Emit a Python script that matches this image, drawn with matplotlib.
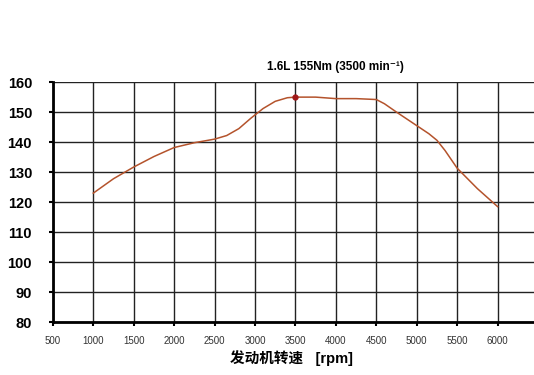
import matplotlib
matplotlib.use("Agg")
import matplotlib.pyplot as plt

plt.rcParams['font.family'] = ['Liberation Sans', 'DejaVu Sans', 'Noto Sans CJK SC']

# torque curve
rpm    = [1000, 1250, 1500, 1750, 2000, 2250, 2500, 2650, 2800, 2950, 3100,
          3250, 3400, 3500, 3750, 4000, 4250, 4500, 4600, 4750, 5000, 5150,
          5250, 5350, 5500, 5750, 6000]
torque = [123, 127.8, 131.7, 135.2, 138.2, 139.8, 141, 142.2, 144.5, 148,
          151.2, 153.6, 154.8, 155, 155, 154.5, 154.5, 154.2, 152.8, 150,
          145.5, 142.8, 140.6, 137.2, 131.3, 124.5, 118.5]
peak_rpm, peak_nm = 3500, 155
xticks = [500, 1000, 1500, 2000, 2500, 3000, 3500, 4000, 4500, 5000, 5500, 6000]
yticks = [80, 90, 100, 110, 120, 130, 140, 150, 160]
title  = "1.6L 155Nm (3500 min⁻¹)"
xlabel = "发动机转速   [rpm]"

fig = plt.figure(figsize=(5.34, 3.75), dpi=100)
ax = fig.add_axes([0.099, 0.141, 0.901, 0.64])

ax.plot(rpm, torque, color="#b4532c", lw=1.1, zorder=3)
ax.plot([peak_rpm], [peak_nm], "o", color="#a01818", ms=3.5, zorder=4)

ax.set_xlim(500, 6450)
ax.set_ylim(80, 160)
ax.set_xticks(xticks)
ax.set_yticks(yticks)
ax.grid(True, color="#222222", lw=1.0)
ax.set_axisbelow(True)

for s in ["top", "right"]:
    ax.spines[s].set_visible(False)
for s in ["left", "bottom"]:
    ax.spines[s].set_linewidth(2.0)
    ax.spines[s].set_color("black")

ax.tick_params(axis="y", labelsize=10.5, length=3, width=1.5, pad=12)
for lab in ax.get_yticklabels():
    lab.set_fontweight("bold")
ax.tick_params(axis="x", labelsize=7, length=3, width=1.5, pad=7,
               labelcolor="#333333")

ax.text(peak_rpm + 500, 163, title, ha="center", va="bottom",
        fontsize=8.5, fontweight="bold", clip_on=False)
fig.text(0.545, 0.025, xlabel, ha="center", va="bottom", fontsize=10.5,
         fontweight="bold", family=["Liberation Sans", "Noto Sans CJK SC", "DejaVu Sans"])

fig.savefig("out.png", dpi=100)
